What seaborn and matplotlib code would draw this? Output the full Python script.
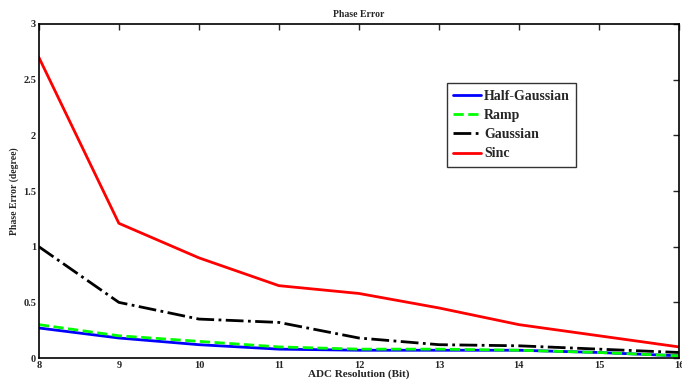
import matplotlib
matplotlib.use("Agg")
import matplotlib.pyplot as plt
import seaborn as sns
import pandas as pd

bits = [8, 9, 10, 11, 12, 13, 14, 15, 16]
half_gaussian = [0.27, 0.18, 0.12, 0.08, 0.07, 0.07, 0.07, 0.05, 0.02]
ramp = [0.30, 0.20, 0.15, 0.10, 0.08, 0.08, 0.07, 0.05, 0.02]
gaussian = [1.0, 0.50, 0.35, 0.32, 0.18, 0.12, 0.11, 0.08, 0.05]
sinc = [2.70, 1.21, 0.90, 0.65, 0.58, 0.45, 0.30, 0.20, 0.10]

sns.set_style("white")
plt.rcParams['font.family'] = ['Liberation Serif', 'DejaVu Serif']
plt.rcParams['font.weight'] = 'bold'
plt.rcParams['xtick.direction'] = 'in'
plt.rcParams['ytick.direction'] = 'in'

fig = plt.figure(figsize=(6.82, 3.85), dpi=100)
ax = fig.add_axes([0.057, 0.070, 0.9385, 0.8677])

series = [("Half-Gaussian", half_gaussian, "#0000ff", "-"),
          ("Ramp", ramp, "#00ff00", "--"),
          ("Gaussian", gaussian, "black", "-."),
          ("Sinc", sinc, "#ff0000", "-")]
for name, vals, col, ls in series:
    df = pd.DataFrame({"bit": bits, "err": vals})
    sns.lineplot(data=df, x="bit", y="err", ax=ax, color=col, linestyle=ls,
                 linewidth=2, label=name)

ax.set_xlim(8, 16)
ax.set_ylim(0, 3)
ax.set_xticks(bits)
ax.set_yticks([0, 0.5, 1, 1.5, 2, 2.5, 3])
ax.set_yticklabels(["0", "0.5", "1", "1.5", "2", "2.5", "3"])
ax.tick_params(labelsize=7.5, length=4, width=1, top=True, right=True, pad=2)
for s in ax.spines.values():
    s.set_linewidth(1.2)
    s.set_color("black")

ax.set_xlabel("ADC Resolution (Bit)", fontsize=8, fontweight="bold", labelpad=0)
ax.set_ylabel("Phase Error (degree)", fontsize=7, fontweight="bold", labelpad=3)
ax.set_title("Phase Error", fontsize=7, fontweight="bold", pad=5)

leg = ax.legend(loc="upper left", bbox_to_anchor=(0.638, 0.822),
                prop={"family": "Liberation Serif", "weight": "bold", "size": 10},
                frameon=True, fancybox=False, handlelength=2.0, handletextpad=0.2,
                borderpad=0.45, labelspacing=0.45, borderaxespad=0)
leg.get_frame().set_edgecolor("black")
leg.get_frame().set_linewidth(1)

fig.savefig("out.png", dpi=100)
